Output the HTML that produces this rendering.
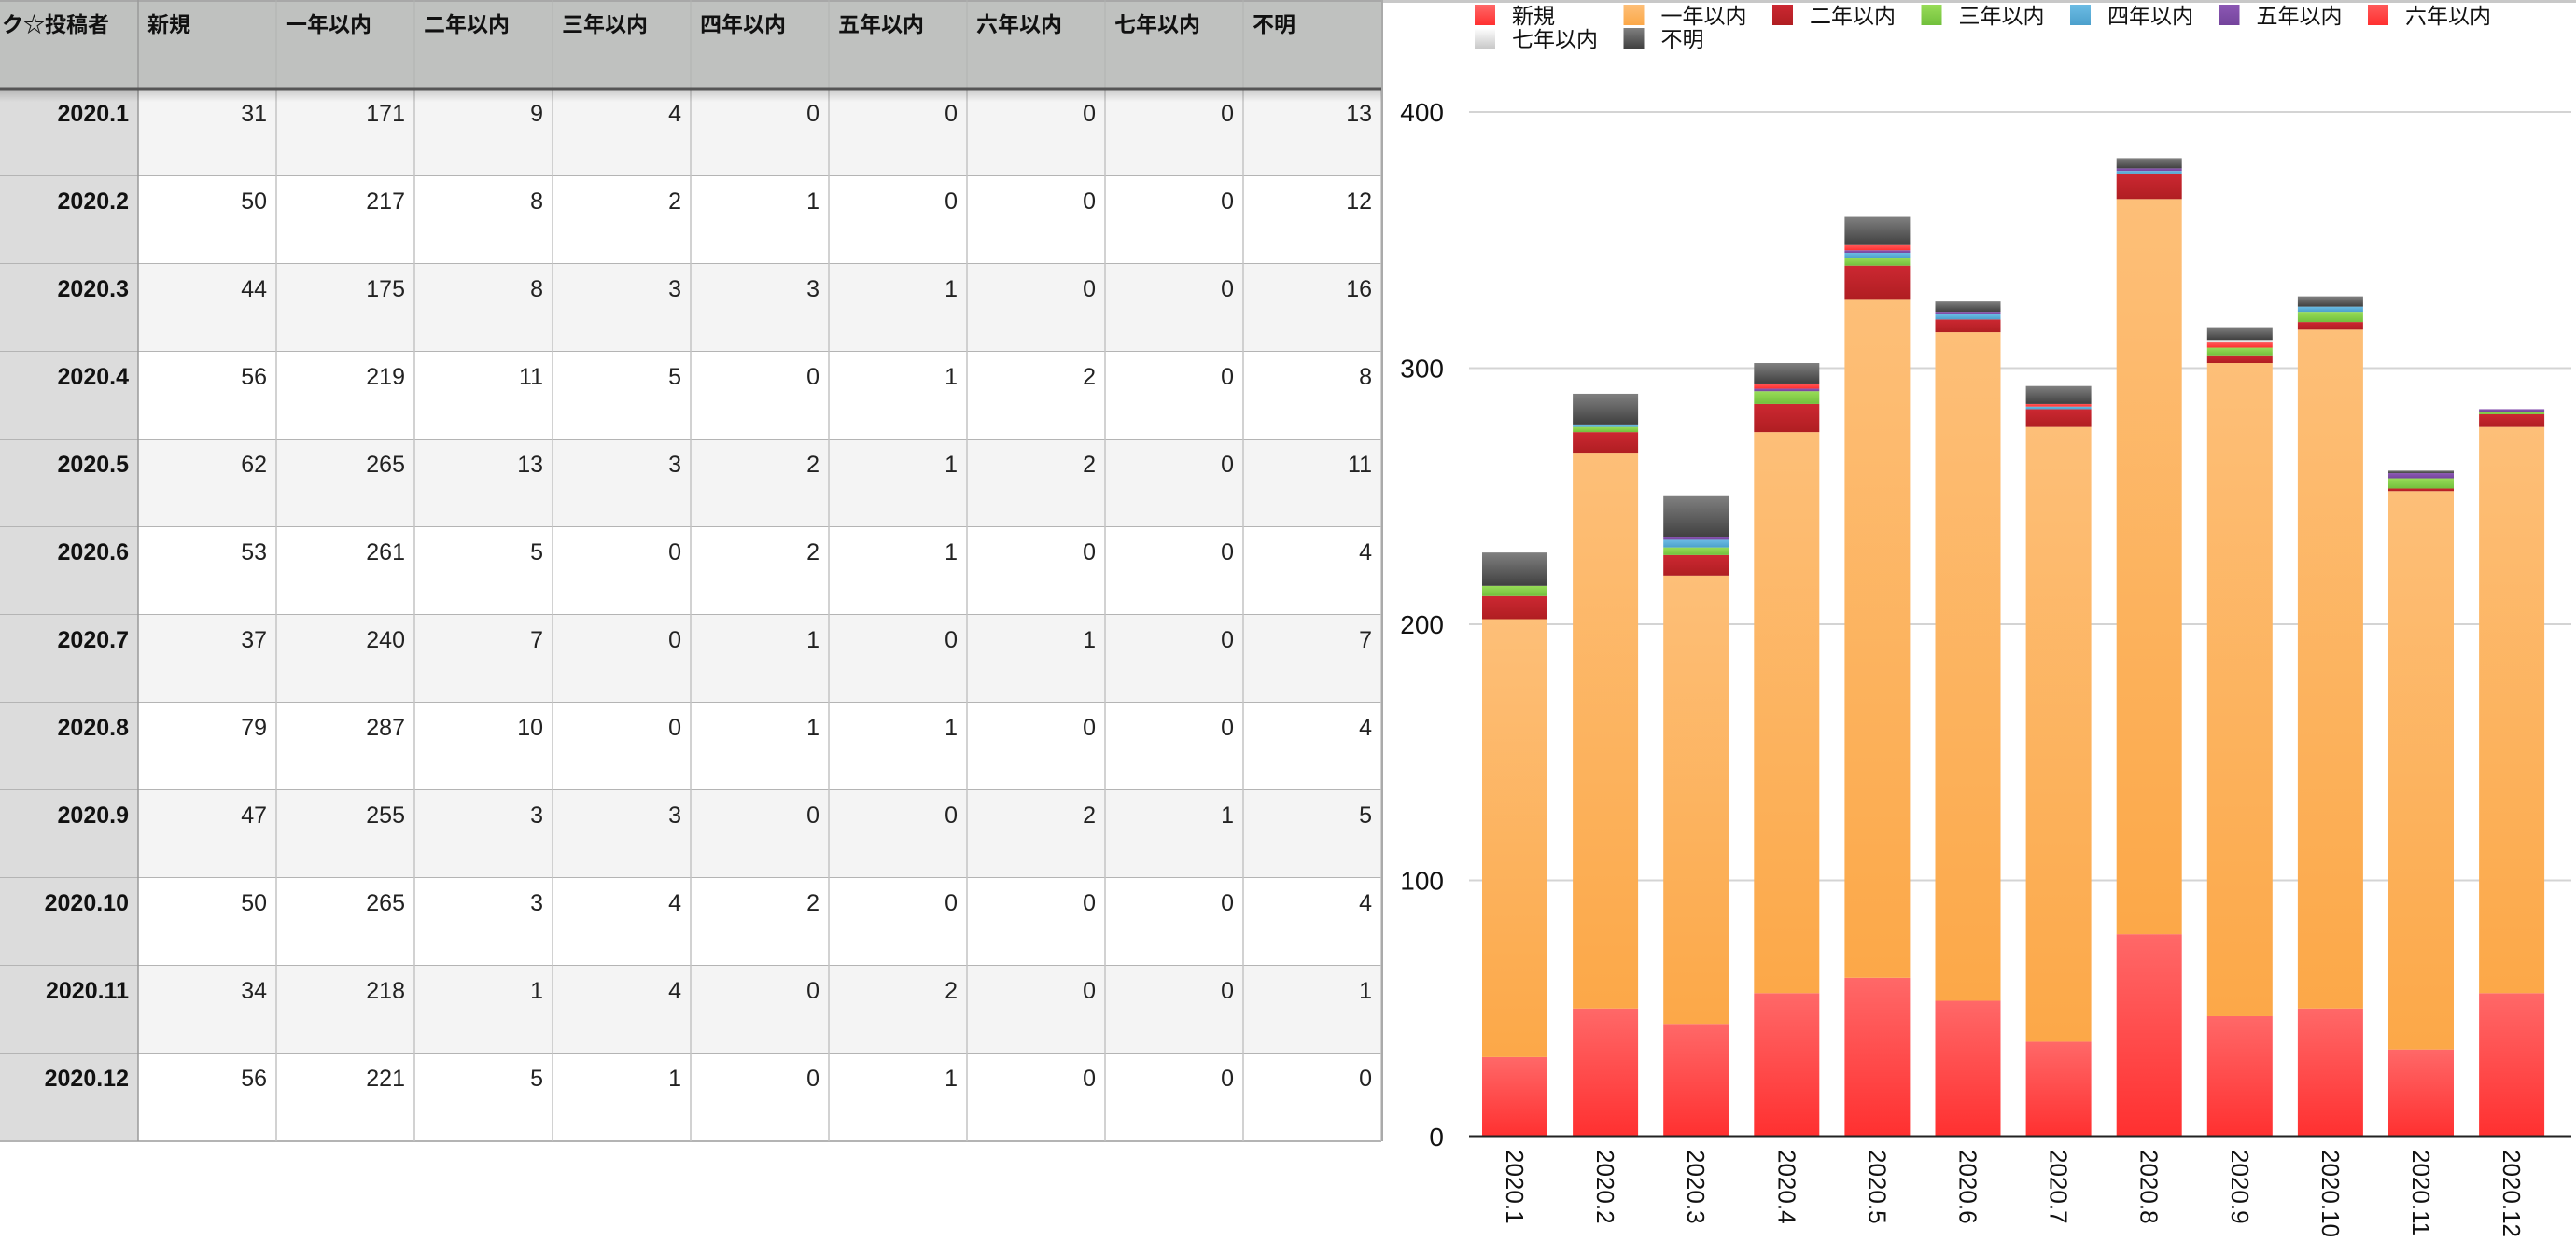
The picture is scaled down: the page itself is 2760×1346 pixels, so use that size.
<!DOCTYPE html>
<html><head><meta charset="utf-8">
<style>
html,body{margin:0;padding:0;background:#fff;width:2760px;height:1346px;overflow:hidden;}
body{font-family:"Liberation Sans","Noto Sans CJK JP",sans-serif;}
svg{position:absolute;left:0;top:0;}
</style></head>
<body>
<svg id="root" width="2760" height="1346" viewBox="0 0 2760 1346" xmlns="http://www.w3.org/2000/svg">
<defs>
<linearGradient id="g0" x1="0" y1="0" x2="0" y2="1"><stop offset="0" stop-color="#ff6868"/><stop offset="1" stop-color="#ff3030"/></linearGradient>
<linearGradient id="g1" x1="0" y1="0" x2="0" y2="1"><stop offset="0" stop-color="#fdbf78"/><stop offset="1" stop-color="#fca848"/></linearGradient>
<linearGradient id="g2" x1="0" y1="0" x2="0" y2="1"><stop offset="0" stop-color="#cc2832"/><stop offset="1" stop-color="#b01e22"/></linearGradient>
<linearGradient id="g3" x1="0" y1="0" x2="0" y2="1"><stop offset="0" stop-color="#98dc58"/><stop offset="1" stop-color="#72c03c"/></linearGradient>
<linearGradient id="g4" x1="0" y1="0" x2="0" y2="1"><stop offset="0" stop-color="#6cbce4"/><stop offset="1" stop-color="#4ca0cc"/></linearGradient>
<linearGradient id="g5" x1="0" y1="0" x2="0" y2="1"><stop offset="0" stop-color="#8c58b4"/><stop offset="1" stop-color="#74449c"/></linearGradient>
<linearGradient id="g6" x1="0" y1="0" x2="0" y2="1"><stop offset="0" stop-color="#ff5a5a"/><stop offset="1" stop-color="#ff3030"/></linearGradient>
<linearGradient id="g7" x1="0" y1="0" x2="0" y2="1"><stop offset="0" stop-color="#ffffff"/><stop offset="1" stop-color="#c8c8c8"/></linearGradient>
<linearGradient id="g8" x1="0" y1="0" x2="0" y2="1"><stop offset="0" stop-color="#808080"/><stop offset="1" stop-color="#404040"/></linearGradient>
<linearGradient id="hdrShadow" x1="0" y1="0" x2="0" y2="1"><stop offset="0" stop-color="#000" stop-opacity="0.18"/><stop offset="1" stop-color="#000" stop-opacity="0"/></linearGradient>
</defs>
<g id="table"></g>
<g id="chart"></g>
</svg>
<script>
const categories = ["2020.1","2020.2","2020.3","2020.4","2020.5","2020.6","2020.7","2020.8","2020.9","2020.10","2020.11","2020.12"];
const seriesNames = ["新規","一年以内","二年以内","三年以内","四年以内","五年以内","六年以内","七年以内","不明"];
const sNew   = [31,50,44,56,62,53,37,79,47,50,34,56];
const sY1    = [171,217,175,219,265,261,240,287,255,265,218,221];
const sY2    = [9,8,8,11,13,5,7,10,3,3,1,5];
const sY3    = [4,2,3,5,3,0,0,0,3,4,4,1];
const sY4    = [0,1,3,0,2,2,1,1,0,2,0,0];
const sY5    = [0,0,1,1,1,1,0,1,0,0,2,1];
const sY6    = [0,0,0,2,2,0,1,0,2,0,0,0];
const sY7    = [0,0,0,0,0,0,0,0,1,0,0,0];
const sUnk   = [13,12,16,8,11,4,7,4,5,4,1,0];
const yTicks = [0,100,200,300,400];
const headerTitle = "ク☆投稿者";

const series = [sNew,sY1,sY2,sY3,sY4,sY5,sY6,sY7,sUnk];
const NS = "http://www.w3.org/2000/svg";
function mk(tag, attrs, parent){const e=document.createElementNS(NS,tag);for(const k in attrs)e.setAttribute(k,attrs[k]);parent.appendChild(e);return e;}
const FONT = '"Liberation Sans","Noto Sans CJK JP",sans-serif';

// ---------- table ----------
const tbl = document.getElementById('table');
const colW = 148, hdrH = 95, rowH = 94;
const nCols = 1 + series.length;
const tblW = colW * nCols;
// header
let hb = mk('rect',{x:0,y:0,width:tblW,height:hdrH,fill:'#bfc1bf'},tbl);


mk('rect',{x:0,y:0,width:tblW,height:2,fill:'#a8a8a8'},tbl);
const headers = [headerTitle].concat(seriesNames);
headers.forEach((h,i)=>{
  const t = mk('text',{x:i*colW+(i===0?2:10),y:34,'font-size':23,'font-weight':'bold',fill:'#111','font-family':FONT},tbl);
  t.textContent = h;
  
  
});
// rows
categories.forEach((c,r)=>{
  const y = hdrH + r*rowH;
  const bg = mk('rect',{x:colW,y:y,width:tblW-colW,height:rowH,fill:(r%2===0)?'#f4f4f4':'#ffffff'},tbl);
  
  
  const fc = mk('rect',{x:0,y:y,width:colW,height:rowH,fill:'#dcdcdc'},tbl);
  
  
  const lt = mk('text',{x:colW-10,y:y+35,'font-size':25,'font-weight':'bold','text-anchor':'end',fill:'#111','font-family':FONT},tbl);
  lt.textContent = c;
  
  
  series.forEach((s,j)=>{
    const t = mk('text',{x:(j+2)*colW-10,y:y+35,'font-size':25,'text-anchor':'end',fill:'#222','font-family':FONT},tbl);
    t.textContent = s[r];
    
    
  });
  mk('line',{x1:0,x2:tblW,y1:y+rowH,y2:y+rowH,stroke:'#b4b4b4','stroke-width':2},tbl);
});
const tblBottom = hdrH + categories.length*rowH;
for(let i=1;i<=nCols;i++){
  mk('line',{x1:i*colW,x2:i*colW,y1:i===1?0:hdrH,y2:tblBottom,stroke:i===1?'#9a9a9a':'#c4c4c4','stroke-width':1.5},tbl);
}
for(let i=2;i<nCols;i++){
  mk('line',{x1:i*colW,x2:i*colW,y1:0,y2:hdrH,stroke:'#b0b2b0','stroke-width':1},tbl);
}
mk('rect',{x:0,y:hdrH,width:tblW,height:14,fill:'url(#hdrShadow)'},tbl);
mk('line',{x1:0,x2:tblW,y1:hdrH,y2:hdrH,stroke:'#555','stroke-width':3},tbl);

// ---------- chart ----------
const ch = document.getElementById('chart');
mk('rect',{x:tblW,y:0,width:2760-tblW,height:3,fill:'#c8c8c8'},ch);
mk('line',{x1:tblW+1,x2:tblW+1,y1:0,y2:tblBottom,stroke:'#aaaaaa','stroke-width':2},ch);
const plotL = 1574, plotR = 2755, y0 = 1218, pxPer = 274.5/100;
const yScale = v => y0 - v*pxPer;
const firstX = 1588, pitch = 97.1, barW = 70;
const xScale = i => firstX + i*pitch;

yTicks.forEach(v=>{
  if(v>0){
    const g = mk('line',{x1:plotL,x2:plotR,y1:yScale(v),y2:yScale(v),stroke:'#d4d4d4','stroke-width':2},ch);
    
    
  }
  const t = mk('text',{x:1547,y:yScale(v)+10,'font-size':28,'text-anchor':'end',fill:'#111','font-family':FONT},ch);
  t.textContent = v;
  
  
});

categories.forEach((c,i)=>{
  let acc = 0;
  series.forEach((s,j)=>{
    const v = s[i];
    if(v<=0) return;
    const r = mk('rect',{x:xScale(i),y:yScale(acc+v),width:barW,height:v*pxPer,fill:'url(#g'+j+')'},ch);
    
    
    acc += v;
  });
  const cx = xScale(i)+barW/2;
  const t = mk('text',{x:0,y:0,'font-size':26,fill:'#111','font-family':FONT,transform:'translate('+(cx-9)+','+(y0+14)+') rotate(90)'},ch);
  t.textContent = c;
  
  
});
const ax = mk('line',{x1:plotL,x2:plotR,y1:y0,y2:y0,stroke:'#222','stroke-width':3},ch);



// legend
seriesNames.forEach((n,j)=>{
  const row = j<7?0:1, col = j<7?j:j-7;
  const lx = 1580 + col*159.5, ly = 5 + row*25;
  const g = mk('g',{},ch);
  
  
  mk('rect',{x:lx,y:ly,width:22,height:22,fill:'url(#g'+j+')'},g);
  const t = mk('text',{x:lx+40,y:ly+20,'font-size':23,fill:'#111','font-family':FONT},g);
  t.textContent = n;
});
</script>
</body></html>
